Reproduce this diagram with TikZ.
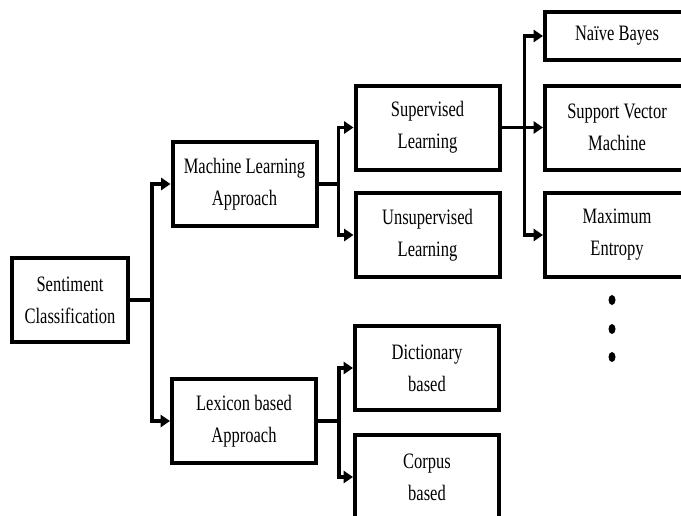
\documentclass[tikz,border=0pt]{standalone}
\usepackage{fontspec}
\setmainfont{Liberation Serif}[FakeStretch=0.75]
\usetikzlibrary{arrows.meta, calc}

\begin{document}
\begin{tikzpicture}[
    x=0.75pt, y=-0.75pt,
    font=\fontsize{16.5}{24}\selectfont,
    box/.style={draw, line width=3pt, align=center, inner sep=0pt,
                minimum width=108pt, minimum height=63pt},
    flow/.style={-{Triangle[length=7pt, width=9pt]}, line width=2.5pt},
]
\clip (0,0) rectangle (681,515);

% --- raiz ---
\node[box, minimum width=87pt] (sent) at (70,300) {Sentiment\\Classification};

% --- enfoques ---
\node[box] (ml)  at (244.5,184) {Machine Learning\\Approach};
\node[box] (lex) at (244,421) {Lexicon based\\Approach};

% --- aprendizaje ---
\node[box] (sup)   at (427.5,127.5) {Supervised\\Learning};
\node[box] (unsup) at (427.5,235) {Unsupervised\\Learning};

% --- lexico ---
\node[box] (dict) at (427,368) {Dictionary\\based};
\node[box] (corp) at (427,477) {Corpus\\based};

% --- clasificadores ---
\node[box, minimum height=36pt] (nb)  at (617,36) {Naïve Bayes};
\node[box] (svm) at (617,127.5) {Support Vector\\Machine};
\node[box] (me)  at (617,235) {Maximum\\Entropy};

% puntos suspensivos
\foreach \y in {300,329,357}
    \fill (612,\y) ellipse (3.5 and 5);

% --- conectores ---
\draw[flow] (sent.east) -- ++(22,0) |- (ml.west);
\draw[flow] (sent.east) -- ++(22,0) |- (lex.west);
\draw[flow] (ml.east) -- ++(20,0) |- (sup.west);
\draw[flow] (ml.east) -- ++(20,0) |- (unsup.west);
\draw[flow] (lex.east) -- ++(21,0) |- (dict.west);
\draw[flow] (lex.east) -- ++(21,0) |- (corp.west);
\draw[flow] (sup.east) -- ++(23,0) |- (nb.west);
\draw[flow] (sup.east) -- (svm.west);
\draw[flow] (sup.east) -- ++(23,0) |- (me.west);

\end{tikzpicture}
\end{document}
